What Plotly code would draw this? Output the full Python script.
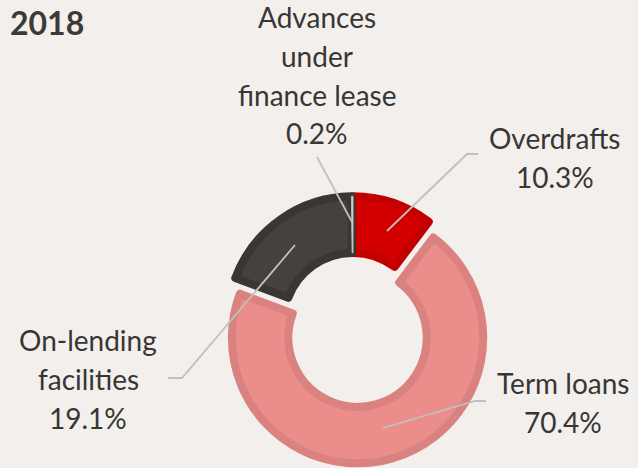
import plotly.graph_objects as go

# Loan book composition, 2018
categories = ["Overdrafts", "Term loans", "On-lending facilities", "Advances under finance lease"]
shares = [10.3, 70.4, 19.1, 0.2]
label_lines = [["Overdrafts"], ["Term loans"], ["On-lending", "facilities"], ["Advances", "under", "finance lease"]]

fill_colors = ["#d40000", "#eb8e8b", "#46413c", "#e6e3df"]
edge_colors = ["#c20000", "#d98280", "#3a3632", "#b8b8b8"]
edge_widths = [8, 8, 8, 1]
pulls = [0, 0.13, 0, 0]

W, H = 638, 468
BG = "#f2efec"
TXT = "#383634"
LINE_GAP = 38.8

# pie placement (pixels)
cx, cy, box = 353, 322, 284

fig = go.Figure()
fig.add_trace(go.Pie(
    labels=categories,
    values=shares,
    sort=False,
    direction="clockwise",
    rotation=0,
    hole=0.55,
    pull=pulls,
    textinfo="none",
    hoverinfo="label+percent",
    showlegend=False,
    marker=dict(colors=fill_colors, line=dict(color=edge_colors, width=edge_widths)),
    domain=dict(x=[(cx - box / 2) / W, (cx + box / 2) / W],
                y=[1 - (cy + box / 2) / H, 1 - (cy - box / 2) / H]),
))

# label anchors (x centre, y of first line) and leader paths, in pixels
label_pos = [(555, 138), (563, 383), (88, 340), (317, 17)]
leaders = [
    [(478, 154), (467, 154), (387, 231)],
    [(486, 401), (475, 401), (383, 428)],
    [(168, 378), (182, 378), (295, 245)],
    [(317, 157), (352, 222)],
]

annotations = []
for lines, val, (x, y) in zip(label_lines, shares, label_pos):
    for k, line in enumerate(lines + [f"{val:.1f}%"]):
        annotations.append(dict(x=x, y=y + k * LINE_GAP, xref="x", yref="y", text=line,
                                showarrow=False, xanchor="center", yanchor="middle",
                                font=dict(family="Lato", size=28, color=TXT)))
annotations.append(dict(x=8, y=22, xref="x", yref="y", text="<b>2018</b>", showarrow=False,
                        xanchor="left", yanchor="middle",
                        font=dict(family="Lato", size=32, color="#3c3936")))

shapes = []
for pts in leaders:
    path = "M " + " L ".join(f"{px},{py}" for px, py in pts)
    shapes.append(dict(type="path", path=path, xref="x", yref="y",
                       line=dict(color="#c0c0c0", width=1.8), layer="above"))

fig.update_layout(
    width=W, height=H, autosize=False,
    margin=dict(l=0, r=0, t=0, b=0),
    paper_bgcolor=BG, plot_bgcolor=BG,
    xaxis=dict(range=[0, W], visible=False, fixedrange=True),
    yaxis=dict(range=[H, 0], visible=False, fixedrange=True),
    annotations=annotations,
    shapes=shapes,
)

fig.write_html("out.html")
